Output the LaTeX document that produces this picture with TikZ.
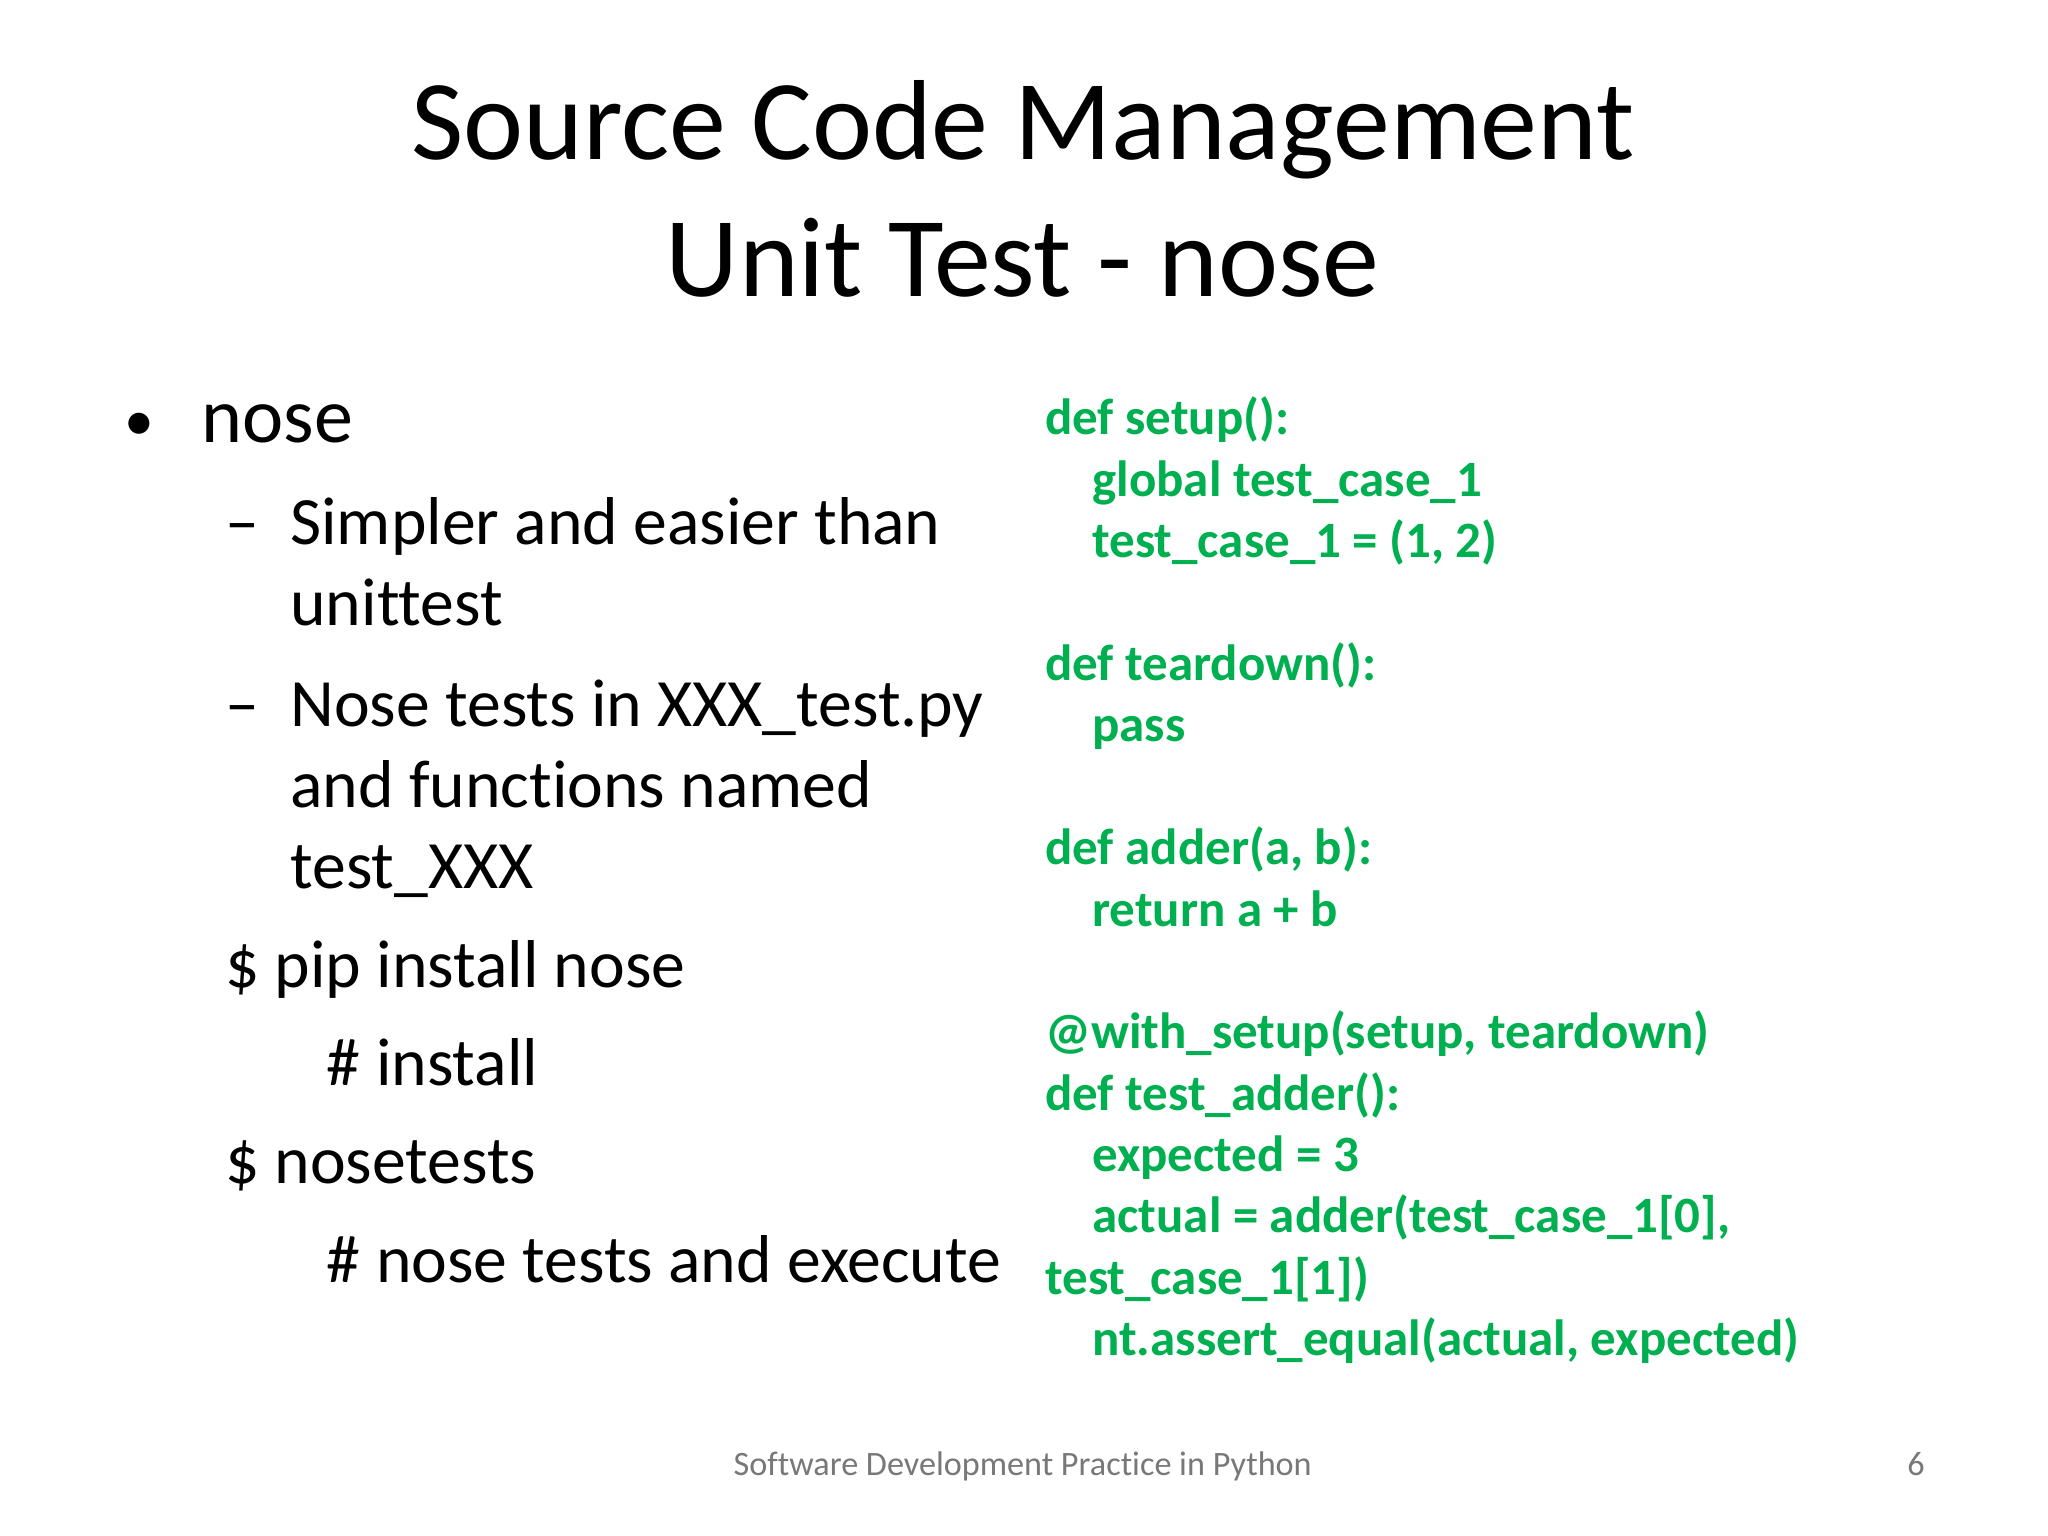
\documentclass[tikz,border=0pt]{standalone}
\usepackage{fontspec}
\setmainfont{Carlito}[Ligatures={NoCommon}]
\definecolor{codegreen}{RGB}{0,176,80}
\definecolor{footgray}{RGB}{120,120,120}
\begin{document}
\begin{tikzpicture}[x=0.02cm,y=-0.02cm,
  t/.style={anchor=base west,inner sep=0pt,font=\fontsize{29.5}{32}\selectfont},
  cd/.style={anchor=base west,inner sep=0pt,text=codegreen,font=\fontsize{22.2}{26}\selectfont\bfseries},
  ttl/.style={anchor=base,inner sep=0pt,font=\fontsize{49.6}{60}\selectfont}]
\fill[white] (0,0) rectangle (1568,1176);
\node[ttl] (t1) at (783,122) {Source Code Management};
\node[ttl] (t2) at (783,227) {Unit Test - nose};
\node[t,font=\fontsize{26}{30}\selectfont] (b0) at (95,337) {•};
\node[t,font=\fontsize{34}{38}\selectfont] (l0) at (154,339) {nose};
\node[t] (d1) at (172,417) {–};
\node[t] (l1) at (222,417) {Simpler and easier than};
\node[t] (l2) at (222,479) {unittest};
\node[t] (d2) at (172,556) {–};
\node[t] (l3) at (222,556) {Nose tests in XXX\_test.py};
\node[t] (l4) at (222,618) {and functions named};
\node[t] (l5) at (222,680) {test\_XXX};
\node[t] (l6) at (172,756) {\$ pip install nose};
\node[t] (l7) at (250,831) {\# install};
\node[t] (l8) at (172,906) {\$ nosetests};
\node[t] (l9) at (250,982) {\# nose tests and execute};
\node[cd] (c1) at (800,333) {def setup():};
\node[cd] (c2) at (836,380) {global test\_case\_1};
\node[cd] (c3) at (836,427) {test\_case\_1 = (1, 2)};
\node[cd] (c4) at (800,521) {def teardown():};
\node[cd] (c5) at (836,568) {pass};
\node[cd] (c6) at (800,662) {def adder(a, b):};
\node[cd] (c7) at (836,709) {return a + b};
\node[cd] (c8) at (800,803) {@with\_setup(setup, teardown)};
\node[cd] (c9) at (800,850) {def test\_adder():};
\node[cd] (c10) at (836,897) {expected = 3};
\node[cd] (c11) at (836,944) {actual = adder(test\_case\_1[0],};
\node[cd] (c12) at (800,991) {test\_case\_1[1])};
\node[cd] (c13) at (836,1038) {nt.assert\_equal(actual, expected)};
\node[anchor=base,inner sep=0pt,text=footgray,font=\fontsize{14.9}{17}\selectfont] (f1) at (783,1130) {Software Development Practice in Python};
\node[anchor=base,inner sep=0pt,text=footgray,font=\fontsize{14.9}{17}\selectfont] (f2) at (1467,1130) {6};
\end{tikzpicture}
\end{document}
